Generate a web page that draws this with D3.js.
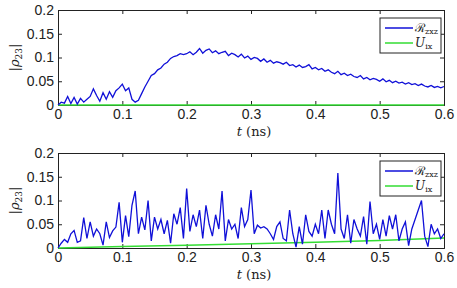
<!DOCTYPE html>
<html>
<head>
<meta charset="utf-8">
<script src="https://cdn.jsdelivr.net/npm/d3@7"></script>
<style>
  body { margin: 0; background: #fff; }
  svg text { fill: #222; }
</style>
</head>
<body>
<div id="chart"></div>
<script>
// Chart values
const step = 0.005;
const xTicks = [0, 0.1, 0.2, 0.3, 0.4, 0.5, 0.6];
const yTicks = [0, 0.05, 0.1, 0.15, 0.2];

// top panel, R_zxz (one value per 0.005 ns)
const rTop = [
  0.000, 0.006, 0.004, 0.018, 0.003, 0.016, 0.002, 0.014, 0.006, 0.012,
  0.018, 0.034, 0.020, 0.008, 0.026, 0.012, 0.028, 0.016, 0.030, 0.036,
  0.044, 0.030, 0.036, 0.012, 0.006, 0.010, 0.024, 0.038, 0.050, 0.062,
  0.066, 0.074, 0.078, 0.086, 0.090, 0.098, 0.102, 0.104, 0.108, 0.106,
  0.108, 0.112, 0.106, 0.111, 0.119, 0.109, 0.115, 0.118, 0.110, 0.114,
  0.108, 0.111, 0.113, 0.104, 0.109, 0.106, 0.101, 0.107, 0.099, 0.103,
  0.096, 0.100, 0.098, 0.092, 0.097, 0.090, 0.094, 0.088, 0.091, 0.089,
  0.086, 0.090, 0.083, 0.085, 0.080, 0.084, 0.079, 0.081, 0.085, 0.076,
  0.079, 0.074, 0.077, 0.071, 0.074, 0.069, 0.066, 0.071, 0.064, 0.067,
  0.062, 0.065, 0.060, 0.058, 0.062, 0.055, 0.058, 0.053, 0.056, 0.054,
  0.050, 0.055, 0.049, 0.052, 0.047, 0.050, 0.046, 0.048, 0.044, 0.047,
  0.043, 0.045, 0.041, 0.044, 0.040, 0.038, 0.041, 0.037, 0.039, 0.036,
  0.039
];
// top panel, U_ix
const uTopT = [0, 0.1, 0.2, 0.3, 0.4, 0.5, 0.6];
const uTop = [0, 0, 0, 0, 0, 0, 0];

// bottom panel, R_zxz
const rBottom = [
  0.000, 0.010, 0.018, 0.012, 0.030, 0.037, 0.012, 0.015, 0.064, 0.020,
  0.055, 0.025, 0.040, 0.030, 0.006, 0.055, 0.022, 0.036, 0.044, 0.096,
  0.012, 0.068, 0.024, 0.090, 0.120, 0.030, 0.065, 0.038, 0.100, 0.015,
  0.065, 0.040, 0.060, 0.030, 0.058, 0.010, 0.072, 0.050, 0.085, 0.020,
  0.125, 0.035, 0.070, 0.045, 0.080, 0.020, 0.090, 0.050, 0.025, 0.070,
  0.040, 0.120, 0.015, 0.060, 0.040, 0.050, 0.020, 0.085, 0.045, 0.060,
  0.122, 0.030, 0.048, 0.042, 0.045, 0.040, 0.030, 0.018, 0.045, 0.055,
  0.020, 0.015, 0.080, 0.030, 0.002, 0.045, 0.008, 0.070, 0.035, 0.025,
  0.050, 0.030, 0.080, 0.020, 0.080, 0.050, 0.030, 0.158, 0.040, 0.020,
  0.070, 0.010, 0.060, 0.040, 0.025, 0.066, 0.008, 0.098, 0.030, 0.050,
  0.018, 0.060, 0.025, 0.068, 0.040, 0.070, 0.015, 0.040, 0.055, 0.005,
  0.040, 0.060, 0.080, 0.100, 0.025, 0.003, 0.050, 0.030, 0.040, 0.020,
  0.030
];
// bottom panel, U_ix
const uBottomT = [0, 0.1, 0.2, 0.3, 0.4, 0.5, 0.6];
const uBottom = [0, 0.003, 0.006, 0.009, 0.012, 0.016, 0.021];

const width = 457;
const height = 288;
const blue = "#1010d8";
const green = "#33dd33";

const svg = d3.select("#chart")
  .append("svg")
  .attr("width", width)
  .attr("height", height);

const x = d3.scaleLinear().domain([0, 0.6]).range([58, 444]);

function drawPanel(top, bottom, rVals, uT, uVals) {
  const y = d3.scaleLinear().domain([0, 0.2]).range([bottom, top]);
  const g = svg.append("g");

  // inner ticks on all four sides (matlab style)
  const xAxis = d3.axisBottom(x).tickValues(xTicks).tickSize(-4).tickPadding(4)
    .tickFormat(d => d === 0 ? "0" : d3.format(".1f")(d));
  const yAxis = d3.axisLeft(y).tickValues(yTicks).tickSize(-4).tickPadding(4)
    .tickFormat(d => d === 0 ? "0" : String(d));

  g.append("g").attr("transform", `translate(0,${bottom})`).call(xAxis);
  g.append("g").attr("transform", `translate(58,0)`).call(yAxis);
  g.append("g").attr("transform", `translate(0,${top})`)
    .call(d3.axisTop(x).tickValues(xTicks).tickSize(-4).tickFormat(""));
  g.append("g").attr("transform", `translate(444,0)`)
    .call(d3.axisRight(y).tickValues(yTicks).tickSize(-4).tickFormat(""));

  g.selectAll(".domain").attr("stroke", "#222");
  g.selectAll(".tick line").attr("stroke", "#222");
  g.selectAll(".tick text")
    .attr("font-family", "Liberation Sans, Arial, sans-serif")
    .attr("font-size", 14)
    .attr("fill", "#222");

  const line = d3.line().x(d => x(d[0])).y(d => y(d[1]));

  g.append("path")
    .datum(uVals.map((v, i) => [uT[i], v]))
    .attr("d", line)
    .attr("fill", "none")
    .attr("stroke", green)
    .attr("stroke-width", 1.5);

  g.append("path")
    .datum(rVals.map((v, i) => [i * step, v]))
    .attr("d", line)
    .attr("fill", "none")
    .attr("stroke", blue)
    .attr("stroke-width", 1.3);

  // x label
  const xl = g.append("text")
    .attr("x", 254).attr("y", bottom + 31)
    .attr("text-anchor", "middle")
    .attr("font-family", "DejaVu Serif, Liberation Serif, serif")
    .attr("font-size", 13);
  xl.append("tspan").attr("font-style", "italic").text("t");
  xl.append("tspan").text(" (ns)");

  // y label
  const cy = (top + bottom) / 2;
  const yl = g.append("text")
    .attr("transform", `translate(19,${cy}) rotate(-90)`)
    .attr("text-anchor", "middle")
    .attr("font-family", "DejaVu Serif, Liberation Serif, serif")
    .attr("font-size", 13);
  yl.append("tspan").text("|");
  yl.append("tspan").attr("font-style", "italic").text("ρ");
  yl.append("tspan").attr("font-size", 9).attr("dy", 3).text("23");
  yl.append("tspan").attr("dy", -3).text("|");

  // legend
  const lx = 380, ly = top + 8;
  const lg = g.append("g");
  lg.append("rect")
    .attr("x", lx).attr("y", ly).attr("width", 61).attr("height", 35)
    .attr("fill", "#fff").attr("stroke", "#222").attr("stroke-width", 1);
  const items = [
    { color: blue, main: "ℛ", sub: "zxz", italic: false },
    { color: green, main: "U", sub: "ix", italic: true }
  ];
  items.forEach((it, i) => {
    const yy = ly + 10 + i * 15;
    lg.append("line")
      .attr("x1", lx + 5).attr("x2", lx + 33)
      .attr("y1", yy).attr("y2", yy)
      .attr("stroke", it.color).attr("stroke-width", 1.5);
    const t = lg.append("text")
      .attr("x", lx + 35).attr("y", yy + 4)
      .attr("font-family", "DejaVu Serif, Liberation Serif, serif")
      .attr("font-size", 12);
    t.append("tspan").attr("font-style", it.italic ? "italic" : "normal").text(it.main);
    t.append("tspan").attr("font-size", 8).attr("dy", 2).text(it.sub);
  });
}

drawPanel(10, 105, rTop, uTopT, uTop);
drawPanel(153, 248, rBottom, uBottomT, uBottom);
</script>
</body>
</html>
